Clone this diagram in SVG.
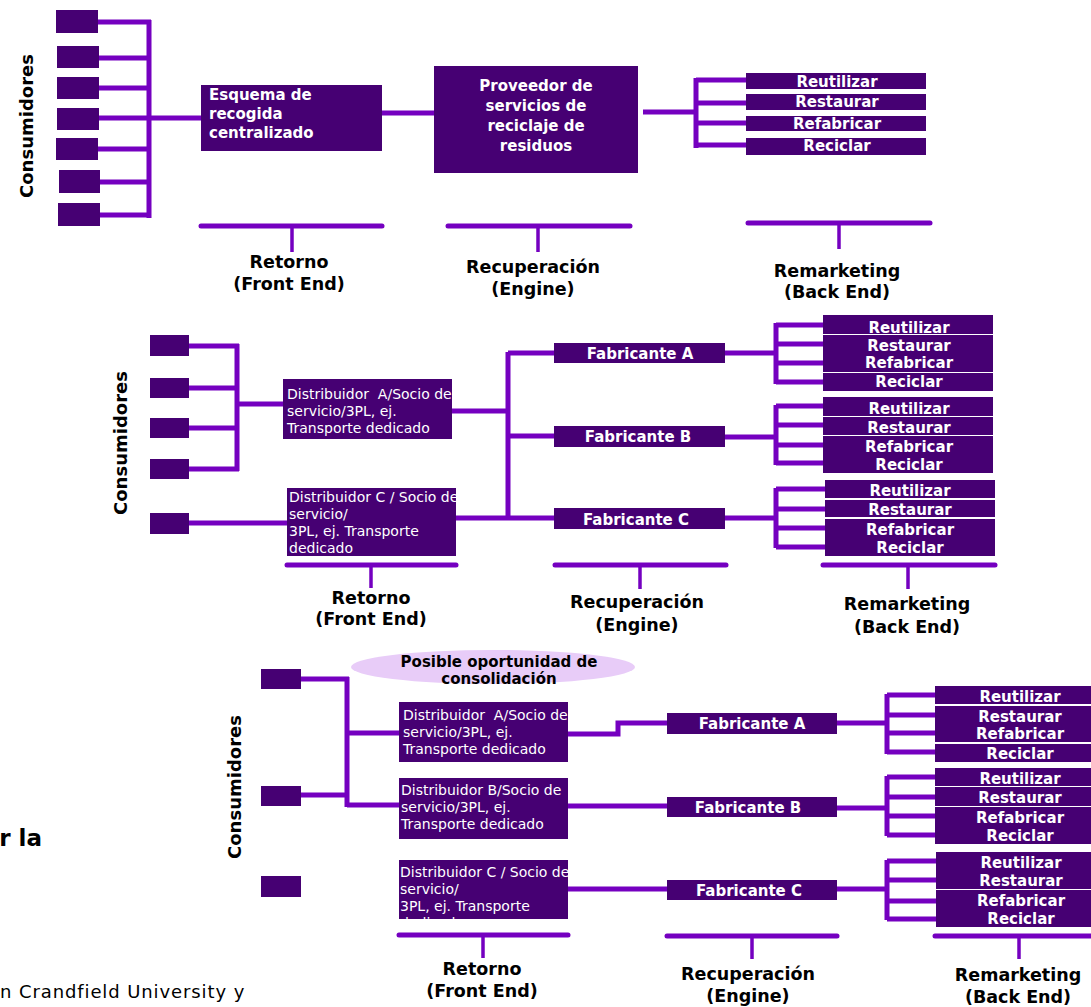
<svg xmlns="http://www.w3.org/2000/svg" width="1091" height="1007" viewBox="0 0 1091 1007">
<style>
.box{fill:#460073}
.ln{stroke:#7500C0;stroke-width:5;fill:none}
.br{stroke:#7500C0;stroke-width:5;fill:none;stroke-linecap:round}
.tk{stroke:#7500C0;stroke-width:3.5;fill:none}
.wb{font-family:"DejaVu Sans",sans-serif;font-weight:bold;font-size:15px;fill:#fff}
.wbc{font-family:"DejaVu Sans",sans-serif;font-weight:bold;font-size:15px;fill:#fff;text-anchor:middle}
.wr{font-family:"DejaVu Sans",sans-serif;font-size:14px;fill:#fff}
.lbl{font-family:"DejaVu Sans",sans-serif;font-weight:bold;font-size:17.5px;fill:#000;text-anchor:middle}
.cons{font-family:"DejaVu Sans",sans-serif;font-weight:bold;font-size:18px;fill:#000;text-anchor:middle}
</style>
<defs>
<clipPath id="clipC1"><rect x="287" y="488" width="169" height="68"/></clipPath>
<clipPath id="clipC2"><rect x="399" y="860" width="169" height="59"/></clipPath>
</defs>
<rect x="0" y="0" width="1091" height="1007" fill="#fff"/>

<!-- connectors -->
<g id="connectors">
  <!-- top -->
  <path class="ln" d="M98 22H151M98 58H151M98 88H151M98 118H151M98 149H151M100 182H151M100 215H151M149 20V218M149 118H201"/>
  <path class="ln" d="M382 113H434"/>
  <path class="ln" d="M643 112H696M696 78V148M696 80H746M696 103H746M696 123H746M696 145H746"/>
  <!-- middle -->
  <path class="ln" d="M189 346H239M189 388H239M189 428H239M189 469H239M237 344V471M237 404H283M189 523H287"/>
  <path class="ln" d="M452 411H508M456 518H554M508 352V520M508 353H554M508 436H554"/>
  <path class="ln" d="M725 353H776M776 323V384M776 325H823M776 344H823M776 363H823M776 382H823"/>
  <path class="ln" d="M725 437H776M776 405V465M776 406H823M776 425H823M776 445H823M776 463H823"/>
  <path class="ln" d="M725 518H776M776 488V548M776 489H825M776 509H825M776 528H825M776 547H825"/>
  <!-- bottom -->
  <path class="ln" d="M301 679H349M347 677V807M301 795H347M347 733H399M347 805H399"/>
  <path class="ln" d="M568 734H618V723H667M568 806H667M568 889H667"/>
  <path class="ln" d="M837 723H887M887 694V754M887 695H935M887 715H935M887 733H935M887 752H935"/>
  <path class="ln" d="M837 808H887M887 776V836M887 777H935M887 797H935M887 816H935M887 835H935"/>
  <path class="ln" d="M837 889H887M887 860V920M887 861H936M887 880H936M887 901H936M887 919H936"/>
</g>

<!-- top section -->
<g id="top-consumers">
  <rect class="box" x="56" y="10" width="42" height="23"/>
  <rect class="box" x="57" y="46" width="42" height="22"/>
  <rect class="box" x="57" y="77" width="42" height="22"/>
  <rect class="box" x="57" y="108" width="42" height="22"/>
  <rect class="box" x="56" y="138" width="42" height="22"/>
  <rect class="box" x="59" y="170" width="41" height="23"/>
  <rect class="box" x="58" y="203" width="42" height="23"/>
  <text class="cons" transform="translate(33,126) rotate(-90)">Consumidores</text>
</g>
<g id="top-esquema">
  <rect class="box" x="201" y="85" width="181" height="66"/>
  <text class="wb" x="209" y="100">Esquema de</text>
  <text class="wb" x="209" y="119">recogida</text>
  <text class="wb" x="209" y="138">centralizado</text>
</g>
<g id="top-proveedor">
  <rect class="box" x="434" y="66" width="204" height="107"/>
  <text class="wbc" x="536" y="91">Proveedor de</text>
  <text class="wbc" x="536" y="111">servicios de</text>
  <text class="wbc" x="536" y="131">reciclaje de</text>
  <text class="wbc" x="536" y="151">residuos</text>
</g>
<g id="top-remarketing">
  <rect class="box" x="746" y="73" width="180" height="16"/>
  <text class="wbc" x="837" y="87">Reutilizar</text>
  <rect class="box" x="746" y="94" width="180" height="16"/>
  <text class="wbc" x="837" y="107">Restaurar</text>
  <rect class="box" x="746" y="116" width="180" height="15"/>
  <text class="wbc" x="837" y="129">Refabricar</text>
  <rect class="box" x="746" y="138" width="180" height="17"/>
  <text class="wbc" x="837" y="151">Reciclar</text>
</g>
<g id="top-labels">
  <path class="br" d="M201 226H382"/><path class="tk" d="M292 226V252"/>
  <text class="lbl" x="289" y="268">Retorno</text>
  <text class="lbl" x="289" y="290">(Front End)</text>
  <path class="br" d="M448 226H630"/><path class="tk" d="M538 226V252"/>
  <text class="lbl" x="533" y="273">Recuperación</text>
  <text class="lbl" x="533" y="295">(Engine)</text>
  <path class="br" d="M748 223H930"/><path class="tk" d="M839 223V249"/>
  <text class="lbl" x="837" y="277">Remarketing</text>
  <text class="lbl" x="837" y="298">(Back End)</text>
</g>

<!-- middle section -->
<g id="mid-consumers">
  <rect class="box" x="150" y="335" width="39" height="21"/>
  <rect class="box" x="150" y="378" width="39" height="20"/>
  <rect class="box" x="150" y="418" width="39" height="20"/>
  <rect class="box" x="150" y="459" width="39" height="20"/>
  <rect class="box" x="150" y="513" width="39" height="21"/>
  <text class="cons" transform="translate(127,443) rotate(-90)">Consumidores</text>
</g>
<g id="mid-distA">
  <rect class="box" x="283" y="379" width="169" height="60"/>
  <text class="wr" x="287" y="399" xml:space="preserve">Distribuidor  A/Socio de</text>
  <text class="wr" x="287" y="416">servicio/3PL, ej.</text>
  <text class="wr" x="287" y="433">Transporte dedicado</text>
</g>
<g id="mid-distC">
  <rect class="box" x="287" y="488" width="169" height="68"/>
  <g clip-path="url(#clipC1)">
    <text class="wr" x="289" y="502">Distribuidor C / Socio de</text>
    <text class="wr" x="289" y="519">servicio/</text>
    <text class="wr" x="289" y="536">3PL, ej. Transporte</text>
    <text class="wr" x="289" y="553">dedicado</text>
  </g>
</g>
<g id="mid-fabA">
  <rect class="box" x="554" y="343" width="171" height="20"/>
  <text class="wbc" x="640" y="359">Fabricante A</text>
</g>
<g id="mid-fabB">
  <rect class="box" x="554" y="426" width="171" height="21"/>
  <text class="wbc" x="638" y="442">Fabricante B</text>
</g>
<g id="mid-fabC">
  <rect class="box" x="554" y="508" width="171" height="21"/>
  <text class="wbc" x="636" y="525">Fabricante C</text>
</g>
<g id="mid-remA">
  <rect class="box" x="823" y="315" width="170" height="19"/>
  <text class="wbc" x="909" y="333">Reutilizar</text>
  <rect class="box" x="823" y="335" width="170" height="37"/>
  <text class="wbc" x="909" y="351">Restaurar</text>
  <text class="wbc" x="909" y="368">Refabricar</text>
  <rect class="box" x="823" y="373" width="170" height="18"/>
  <text class="wbc" x="909" y="387">Reciclar</text>
</g>
<g id="mid-remB">
  <rect class="box" x="823" y="397" width="170" height="19"/>
  <text class="wbc" x="909" y="414">Reutilizar</text>
  <rect class="box" x="823" y="417" width="170" height="18"/>
  <text class="wbc" x="909" y="433">Restaurar</text>
  <rect class="box" x="823" y="436" width="170" height="37"/>
  <text class="wbc" x="909" y="452">Refabricar</text>
  <text class="wbc" x="909" y="470">Reciclar</text>
</g>
<g id="mid-remC">
  <rect class="box" x="825" y="480" width="170" height="18"/>
  <text class="wbc" x="910" y="496">Reutilizar</text>
  <rect class="box" x="825" y="500" width="170" height="17"/>
  <text class="wbc" x="910" y="515">Restaurar</text>
  <rect class="box" x="825" y="519" width="170" height="37"/>
  <text class="wbc" x="910" y="535">Refabricar</text>
  <text class="wbc" x="910" y="553">Reciclar</text>
</g>
<g id="mid-labels">
  <path class="br" d="M287 565H456"/><path class="tk" d="M371 565V588"/>
  <text class="lbl" x="371" y="604">Retorno</text>
  <text class="lbl" x="371" y="625">(Front End)</text>
  <path class="br" d="M555 565H726"/><path class="tk" d="M640 565V589"/>
  <text class="lbl" x="637" y="608">Recuperación</text>
  <text class="lbl" x="637" y="631">(Engine)</text>
  <path class="br" d="M823 565H995"/><path class="tk" d="M908 565V589"/>
  <text class="lbl" x="907" y="610">Remarketing</text>
  <text class="lbl" x="907" y="633">(Back End)</text>
</g>

<!-- bottom section -->
<g id="bot-consolidacion">
  <ellipse cx="493" cy="667" rx="142" ry="17" fill="#E8CCF8"/>
  <text class="lbl" style="font-size:15px" x="499" y="667">Posible oportunidad de</text>
  <text class="lbl" style="font-size:15px" x="499" y="684">consolidación</text>
</g>
<g id="bot-consumers">
  <rect class="box" x="261" y="669" width="40" height="20"/>
  <rect class="box" x="261" y="786" width="40" height="20"/>
  <rect class="box" x="261" y="876" width="40" height="21"/>
  <text class="cons" transform="translate(241,787) rotate(-90)">Consumidores</text>
</g>
<g id="bot-distA">
  <rect class="box" x="399" y="702" width="169" height="60"/>
  <text class="wr" x="403" y="720" xml:space="preserve">Distribuidor  A/Socio de</text>
  <text class="wr" x="403" y="737">servicio/3PL, ej.</text>
  <text class="wr" x="403" y="754">Transporte dedicado</text>
</g>
<g id="bot-distB">
  <rect class="box" x="399" y="778" width="169" height="61"/>
  <text class="wr" x="401" y="795">Distribuidor B/Socio de</text>
  <text class="wr" x="401" y="812">servicio/3PL, ej.</text>
  <text class="wr" x="401" y="829">Transporte dedicado</text>
</g>
<g id="bot-distC">
  <rect class="box" x="399" y="860" width="169" height="59"/>
  <g clip-path="url(#clipC2)">
    <text class="wr" x="400" y="877">Distribuidor C / Socio de</text>
    <text class="wr" x="400" y="894">servicio/</text>
    <text class="wr" x="400" y="911">3PL, ej. Transporte</text>
    <text class="wr" x="400" y="928">dedicado</text>
  </g>
</g>
<g id="bot-fabA">
  <rect class="box" x="667" y="713" width="170" height="21"/>
  <text class="wbc" x="752" y="729">Fabricante A</text>
</g>
<g id="bot-fabB">
  <rect class="box" x="667" y="797" width="170" height="20"/>
  <text class="wbc" x="748" y="813">Fabricante B</text>
</g>
<g id="bot-fabC">
  <rect class="box" x="667" y="880" width="170" height="20"/>
  <text class="wbc" x="749" y="896">Fabricante C</text>
</g>
<g id="bot-remA">
  <rect class="box" x="935" y="686" width="156" height="18"/>
  <text class="wbc" x="1020" y="702">Reutilizar</text>
  <rect class="box" x="935" y="706" width="156" height="36"/>
  <text class="wbc" x="1020" y="722">Restaurar</text>
  <text class="wbc" x="1020" y="739">Refabricar</text>
  <rect class="box" x="935" y="744" width="156" height="18"/>
  <text class="wbc" x="1020" y="759">Reciclar</text>
</g>
<g id="bot-remB">
  <rect class="box" x="935" y="768" width="156" height="18"/>
  <text class="wbc" x="1020" y="784">Reutilizar</text>
  <rect class="box" x="935" y="787" width="156" height="19"/>
  <text class="wbc" x="1020" y="803">Restaurar</text>
  <rect class="box" x="935" y="807" width="156" height="37"/>
  <text class="wbc" x="1020" y="823">Refabricar</text>
  <text class="wbc" x="1020" y="841">Reciclar</text>
</g>
<g id="bot-remC">
  <rect class="box" x="936" y="852" width="155" height="37"/>
  <text class="wbc" x="1021" y="868">Reutilizar</text>
  <text class="wbc" x="1021" y="886">Restaurar</text>
  <rect class="box" x="936" y="890" width="155" height="37"/>
  <text class="wbc" x="1021" y="906">Refabricar</text>
  <text class="wbc" x="1021" y="924">Reciclar</text>
</g>
<g id="bot-labels">
  <path class="br" d="M399 935H568"/><path class="tk" d="M483 935V958"/>
  <text class="lbl" x="482" y="975">Retorno</text>
  <text class="lbl" x="482" y="997">(Front End)</text>
  <path class="br" d="M667 936H837"/><path class="tk" d="M752 936V959"/>
  <text class="lbl" x="748" y="980">Recuperación</text>
  <text class="lbl" x="748" y="1002">(Engine)</text>
  <path class="br" d="M935 936H1091"/><path class="tk" d="M1019 936V959"/>
  <text class="lbl" x="1018" y="981">Remarketing</text>
  <text class="lbl" x="1018" y="1003">(Back End)</text>
</g>

<!-- cut-off page texts -->
<g id="page-text">
  <text x="42" y="846" text-anchor="end" style="font-family:'DejaVu Sans',sans-serif;font-weight:bold;font-size:23px;fill:#000">r la</text>
  <text x="0" y="998" style="font-family:'DejaVu Sans',sans-serif;font-size:18px;letter-spacing:0.9px;fill:#000">n Crandfield University y</text>
</g>
</svg>
